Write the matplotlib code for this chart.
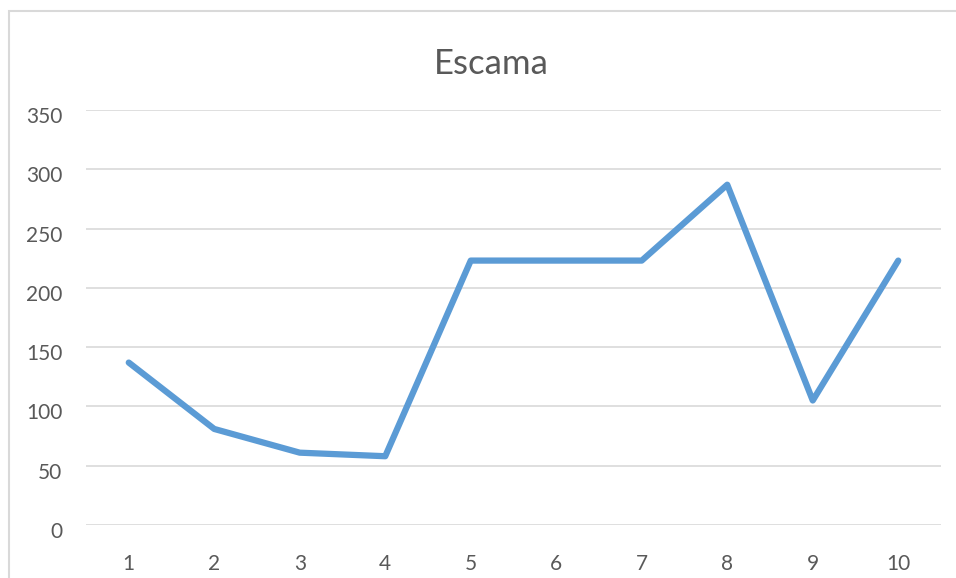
import matplotlib.pyplot as plt
from matplotlib.patches import Rectangle
from matplotlib.transforms import ScaledTranslation

# category labels and values
categories = ['1', '2', '3', '4', '5', '6', '7', '8', '9', '10']
escama = [137, 81, 61, 58, 223, 223, 223, 287, 105, 223]
yticks = [0, 50, 100, 150, 200, 250, 300, 350]

plt.rcParams['font.family'] = ['Lato', 'DejaVu Sans']
text_color = '#595959'
grid_color = '#d9d9d9'

fig = plt.figure(figsize=(9.56, 5.78), dpi=100)
ax = fig.add_axes([86 / 956, 1 - 525 / 578, (941 - 86) / 956, (525 - 110) / 578])

x = list(range(len(categories)))
ax.plot(x, escama, color='#5B9BD5', linewidth=4.5,
        solid_joinstyle='round', solid_capstyle='round', zorder=3)

ax.set_xlim(-0.5, len(categories) - 0.5)
ax.set_ylim(0, 350)
ax.set_xticks(x)
ax.set_xticklabels(categories)
ax.set_yticks(yticks)

ax.grid(axis='y', color=grid_color, linewidth=1.2)
ax.set_axisbelow(True)
for s in ax.spines.values():
    s.set_visible(False)
ax.tick_params(axis='both', length=0, labelsize=15, colors=text_color)
ax.tick_params(axis='y', pad=17)
ax.tick_params(axis='x', pad=21)

# excel puts the value labels a little below their gridline
shift = ScaledTranslation(0, -5 / 100, fig.dpi_scale_trans)
for lab in ax.get_yticklabels():
    lab.set_transform(lab.get_transform() + shift)

fig.text(0.514, 1 - 64 / 578, 'Escama', ha='center', va='center',
         fontsize=25, color=text_color)

# chart area border (cropped at right/bottom)
fig.patches.append(Rectangle((9 / 956, -0.1), 1.2, 1 - 11 / 578 + 0.1,
                             transform=fig.transFigure, fill=False,
                             edgecolor=grid_color, linewidth=1.5))

fig.savefig('out.png', dpi=100)
